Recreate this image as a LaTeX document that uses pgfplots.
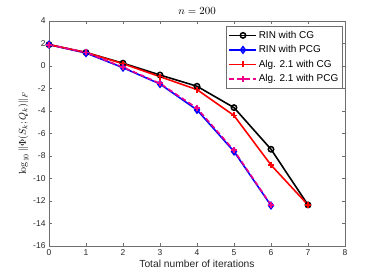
\documentclass[border=0pt]{standalone}
\usepackage[no-math]{fontspec}
\setmainfont{Liberation Sans}
\usepackage{pgfplots}
\pgfplotsset{compat=1.18}
\definecolor{axgray}{RGB}{110,110,110}
\definecolor{txtgray}{RGB}{38,38,38}
\begin{document}
\begin{tikzpicture}
\path[use as bounding box] (-49bp,-30bp) rectangle (333bp,246bp);
\begin{axis}[
  at={(0,0)}, anchor=south west,
  scale only axis, width=296bp, height=225bp,
  xmin=0, xmax=8, ymin=-16, ymax=4,
  xtick={0,...,8}, ytick={-16,-14,...,4},
  tick align=inside, tick pos=both,
  major tick length=3bp,
  axis line style={axgray, line width=0.5pt},
  every tick/.style={axgray, line width=0.5pt},
  /pgf/number format/assume math mode=true,
  ticklabel style={font=\fontsize{8.5}{10}\selectfont, text=txtgray},
  xlabel={Total number of iterations},
  xlabel style={font=\fontsize{10.3}{12}\selectfont, text=txtgray, yshift=2bp},
  ylabel={$\log_{10}\|\Phi(S_k;Q_k)\|_F$},
  ylabel style={font=\fontsize{10}{12}\selectfont, yshift=-2bp},
  title={$n=200$},
  title style={font=\fontsize{10.5}{12}\selectfont, yshift=-3bp},
  legend cell align=left,
  legend style={at={(0.99,0.978)}, anchor=north east,
    font=\fontsize{10}{14.5}\selectfont, draw=axgray,
    inner sep=2bp, nodes={minimum height=14.5bp, inner sep=1.5bp}},
  legend image code/.code={\draw[mark repeat=2,mark phase=2] plot coordinates {(0bp,0bp) (13.5bp,0bp) (27bp,0bp)};},
]
\addplot+[color=black, line width=1.6pt, mark=o, mark size=2.7bp, mark options={solid, draw=black, line width=1.5pt}] coordinates {
(0,1.9) (1,1.2) (2,0.25) (3,-0.8) (4,-1.8) (5,-3.7) (6,-7.4) (7,-12.35)};
\addlegendentry{RIN with CG}
\addplot+[color=blue, line width=1.6pt, mark=diamond, mark size=3.2bp, mark options={solid, draw=blue, line width=1.5pt}] coordinates {
(0,1.9) (1,1.15) (2,-0.15) (3,-1.6) (4,-3.9) (5,-7.6) (6,-12.4)};
\addlegendentry{RIN with PCG}
\addplot+[color=red, line width=1.6pt, mark=+, mark size=3bp, mark options={solid, draw=red, line width=1.5pt}] coordinates {
(0,1.9) (1,1.2) (2,0.2) (3,-0.95) (4,-2.1) (5,-4.4) (6,-8.8) (7,-12.35)};
\addlegendentry{Alg. 2.1 with CG}
\addplot+[color=magenta, line width=1.6pt, dash pattern=on 5bp off 3bp, mark=+, mark size=3bp, mark options={solid, draw=magenta, line width=2pt}] coordinates {
(0,1.9) (1,1.2) (2,-0.1) (3,-1.55) (4,-3.75) (5,-7.5) (6,-12.35)};
\addlegendentry{Alg. 2.1 with PCG}
\end{axis}
\end{tikzpicture}
\end{document}
